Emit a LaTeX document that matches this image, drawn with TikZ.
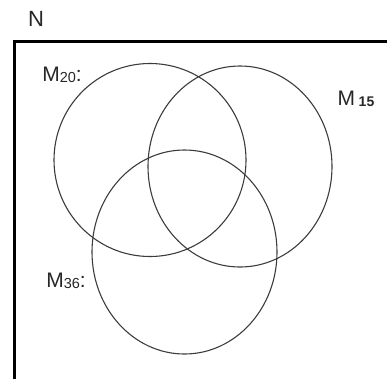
\documentclass[tikz,border=0pt]{standalone}
\usepackage{fontspec}
\setmainfont{Liberation Sans}
\usepackage{tikz}
\usetikzlibrary{positioning}
\definecolor{ringgray}{RGB}{60,60,60}

\begin{document}
\begin{tikzpicture}[x=1pt, y=-1pt,
    ring/.style={draw=ringgray, line width=1.1pt},
    lbl/.style={inner sep=0pt, font=\fontsize{21}{21}\selectfont, text=black!85}
]
\useasboundingbox (0,0) rectangle (387,378);
\clip (0,0) rectangle (387,378);
\draw[line width=3pt] (14,41) rectangle (420,420);
% the three sets
\draw[ring] (150,160) ellipse (96 and 96.5);
\draw[ring] (240,166.5) ellipse (92 and 100.5);
\draw[ring] (184.5,252) ellipse (92.5 and 102);
% labels
\node[lbl, font=\fontsize{22}{22}\selectfont] (n) at (36,19) {N};
\node[lbl] (m20) at (62,75)  {M\raisebox{-1pt}{\fontsize{14.5}{14.5}\selectfont 20}:};
\node[lbl] (m15) at (356,99) {M\,\raisebox{-1pt}{\fontsize{14}{14}\selectfont\bfseries 15}};
\node[lbl] (m36) at (66,281) {M\raisebox{-1pt}{\fontsize{14.5}{14.5}\selectfont 36}:};
\end{tikzpicture}
\end{document}
